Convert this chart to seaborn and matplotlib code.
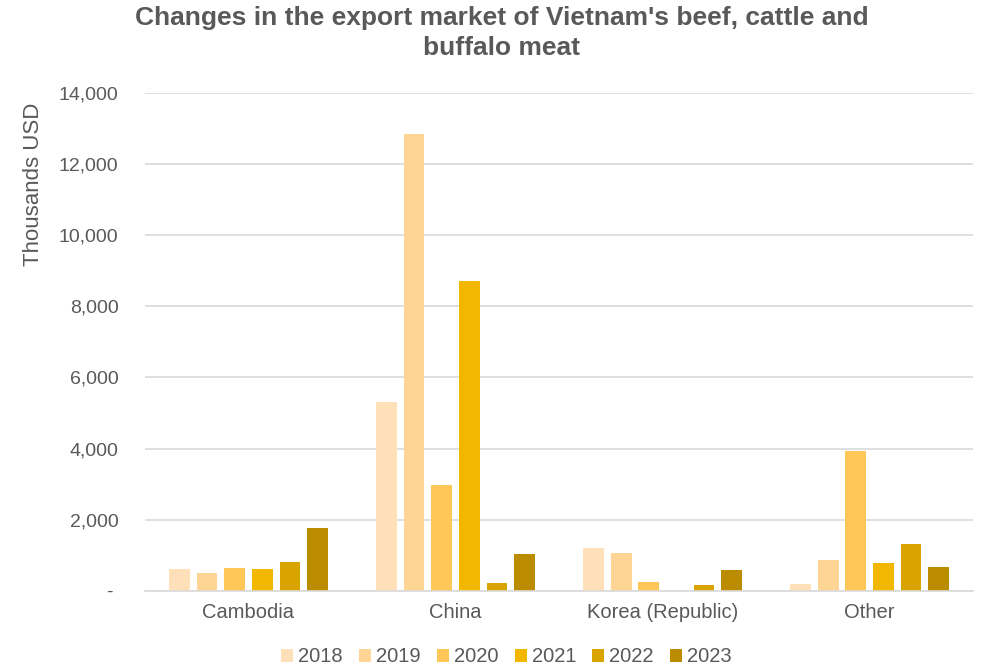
import matplotlib
matplotlib.use("Agg")
import matplotlib.pyplot as plt
import seaborn as sns
import pandas as pd
from matplotlib.ticker import FuncFormatter

# Export value by market, thousands USD
markets = ["Cambodia", "China", "Korea (Republic)", "Other"]
years = ["2018", "2019", "2020", "2021", "2022", "2023"]
v2018 = [610, 5310, 1190, 177]
v2019 = [500, 12850, 1070, 871]
v2020 = [627, 2980, 233, 3936]
v2021 = [610, 8715, 0, 787]
v2022 = [796, 216, 160, 1313]
v2023 = [1771, 1020, 570, 675]
colors = ["#FFE0B9", "#FFD596", "#FFC658", "#F2B700", "#D9A300", "#BC8C00"]

series = [v2018, v2019, v2020, v2021, v2022, v2023]
rows = []
for yr, vals in zip(years, series):
    for m, v in zip(markets, vals):
        rows.append({"Market": m, "Year": yr, "Value": v})
df = pd.DataFrame(rows)

sns.set_theme(style="white")
plt.rcParams["font.family"] = ["Liberation Sans", "DejaVu Sans"]
text_color = "#595959"
grid_color = "#D9D9D9"

fig = plt.figure(figsize=(9.93, 6.69), dpi=100)
ax = fig.add_axes([0.146, 0.117, 0.834, 0.744])

sns.barplot(data=df, x="Market", y="Value", hue="Year", order=markets,
            hue_order=years, palette=colors, saturation=1, width=0.8, gap=0.25,
            linewidth=0, ax=ax, legend=True)

ax.set_ylim(0, 14000)
ax.set_xlim(-0.5, 3.5)
ax.set_yticks(range(0, 14001, 2000))
ax.yaxis.set_major_formatter(FuncFormatter(lambda v, p: "- " if v == 0 else f"{int(v):,}"))
ax.grid(axis="y", color=grid_color, linewidth=1.2)
ax.set_axisbelow(True)
for s in ["top", "right", "left"]:
    ax.spines[s].set_visible(False)
ax.spines["bottom"].set_color(grid_color)
ax.spines["bottom"].set_linewidth(1.2)
ax.tick_params(axis="y", length=0, pad=19, labelsize=14, labelcolor=text_color)
ax.tick_params(axis="x", length=0, pad=9, labelsize=14.5, labelcolor=text_color)
ax.set_xlabel("")
ax.set_ylabel("")

fig.text(0.034, 1 - 184 / 669, "Thousands USD", rotation=90, ha="center",
         va="center", fontsize=16, color=text_color)
fig.text(0.505, 1 - 33 / 669, "Changes in the export market of Vietnam's beef, cattle and\nbuffalo meat",
         ha="center", va="center", fontsize=19, fontweight="bold",
         color=text_color, linespacing=1.3)

handles, labels = ax.get_legend_handles_labels()
ax.legend_.remove()
fig.legend(handles, labels, loc="center", bbox_to_anchor=(0.51, 1 - 657 / 669),
           ncol=6, frameon=False, fontsize=14.5, labelcolor=text_color,
           handlelength=0.6, handleheight=0.6, handletextpad=0.25,
           columnspacing=0.8)

fig.savefig("out.png", dpi=100)
